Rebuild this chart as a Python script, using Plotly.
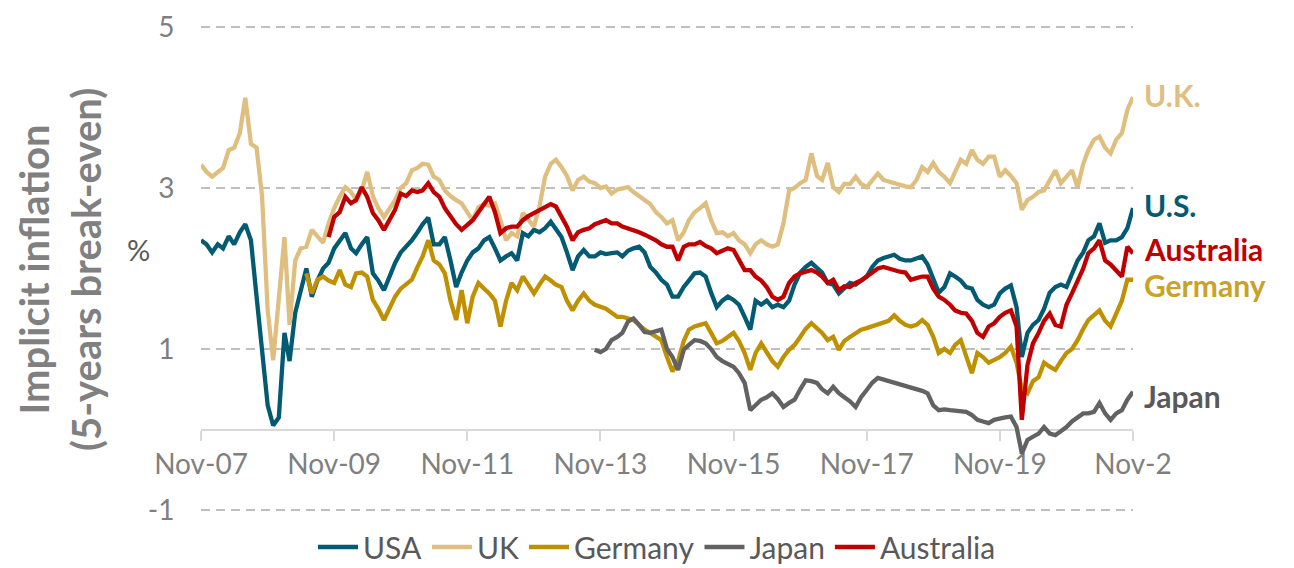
import pandas as pd
import plotly.graph_objects as go

# Monthly readings (Nov-2007 .. Nov-2021); shorter series end in Nov-2021
usa = [2.35,2.3,2.2,2.3,2.25,2.4,2.3,2.45,2.55,2.35, 1.65,0.95,0.3,0.05,0.15,1.2,0.85,1.45,1.7,2.0,
       1.65,1.85,2.0,2.07,2.25,2.35,2.44,2.25,2.19,2.3, 2.39,1.94,1.85,1.73,1.9,2.07,2.2,2.27,2.35,2.45,
       2.55,2.63,2.3,2.3,2.39,2.1,1.77,1.95,2.1,2.2, 2.25,2.35,2.39,2.25,2.1,2.15,2.19,2.1,2.44,2.4,
       2.48,2.45,2.5,2.58,2.5,2.39,2.2,1.98,2.15,2.23, 2.15,2.15,2.2,2.18,2.19,2.2,2.15,2.22,2.25,2.27,
       2.2,2.02,1.95,1.86,1.8,1.65,1.65,1.77,1.85,1.94, 1.95,1.9,1.7,1.52,1.6,1.65,1.61,1.55,1.4,1.24,
       1.6,1.55,1.6,1.52,1.55,1.52,1.6,1.8,1.95,2.02, 2.07,2.0,1.95,1.82,1.8,1.69,1.75,1.82,1.8,1.85,
       1.9,2.02,2.1,2.13,2.15,2.17,2.12,2.1,2.1,2.12, 2.15,2.05,1.86,1.7,1.77,1.94,1.9,1.85,1.77,1.75,
       1.61,1.55,1.52,1.55,1.69,1.75,1.79,1.52,0.9,1.2, 1.3,1.36,1.5,1.7,1.77,1.8,1.77,1.95,2.1,2.2,
       2.35,2.4,2.56,2.32,2.35,2.35,2.39,2.5,2.75]
uk = [3.29,3.2,3.14,3.2,3.25,3.47,3.5,3.68,4.12,3.55, 3.5,2.9,1.48,0.86,1.7,2.39,1.3,2.1,2.25,2.27,
      2.48,2.4,2.32,2.56,2.75,2.89,3.01,2.95,2.85,2.97, 3.2,2.9,2.75,2.64,2.76,2.85,3.0,3.06,3.22,3.25,
      3.3,3.29,3.14,3.1,2.97,2.9,2.85,2.81,2.7,2.6, 2.76,2.8,2.78,2.81,2.6,2.35,2.44,2.4,2.69,2.6,
      2.52,2.77,3.14,3.3,3.35,3.26,3.15,2.97,3.1,3.14, 3.08,3.06,3.0,3.02,2.93,2.98,3.0,3.01,2.95,2.9,
      2.85,2.8,2.7,2.64,2.56,2.6,2.35,2.45,2.6,2.7, 2.75,2.81,2.6,2.44,2.45,2.4,2.44,2.35,2.3,2.19,
      2.3,2.35,2.3,2.27,2.3,2.56,2.97,3.0,3.06,3.1, 3.43,3.15,3.1,3.31,3.01,2.95,3.05,3.05,3.14,3.05,
      3.01,3.1,3.18,3.1,3.08,3.06,3.05,3.02,3.01,3.1, 3.26,3.2,3.31,3.2,3.14,3.06,3.2,3.35,3.3,3.47,
      3.35,3.3,3.39,3.39,3.14,3.22,3.15,3.06,2.73,2.85, 2.89,2.95,2.97,3.1,3.22,3.06,3.15,3.22,3.01,3.3,
      3.47,3.6,3.64,3.5,3.43,3.6,3.68,3.97,4.13]
germany = [1.94,
           1.69,1.86,1.9,1.85,1.82,1.98,1.8,1.77,1.94,1.95, 1.9,1.61,1.5,1.36,1.5,1.65,1.75,1.8,1.86,2.02,
           2.15,2.35,2.1,2.05,1.94,1.6,1.36,1.73,1.32,1.65, 1.82,1.75,1.69,1.6,1.28,1.6,1.82,1.73,1.9,1.8,
           1.69,1.8,1.9,1.85,1.8,1.77,1.6,1.48,1.6,1.69, 1.6,1.55,1.52,1.5,1.45,1.4,1.4,1.38,1.36,1.3,
           1.24,1.2,1.15,1.11,0.9,0.72,0.85,1.1,1.24,1.28, 1.3,1.32,1.2,1.07,1.1,1.15,1.2,1.1,0.95,0.74,
           0.95,1.07,0.95,0.85,0.78,0.9,0.99,1.05,1.15,1.25, 1.32,1.25,1.2,1.11,1.15,0.99,1.1,1.15,1.2,1.24,
           1.26,1.28,1.3,1.32,1.35,1.42,1.35,1.3,1.28,1.3, 1.36,1.3,1.15,0.95,1.0,0.95,1.05,1.11,0.9,0.7,
           0.95,0.9,0.83,0.86,0.9,0.95,1.03,0.83,0.5,0.45, 0.6,0.65,0.83,0.78,0.74,0.85,0.95,1.0,1.11,1.25,
           1.36,1.42,1.48,1.35,1.28,1.44,1.6,1.86,1.86]
japan = [0.99,
         0.96,1.0,1.11,1.15,1.2,1.34,1.38,1.3,1.21,1.2, 1.22,1.24,1.0,0.9,0.74,0.99,1.05,1.11,1.1,1.07,
         1.0,0.9,0.85,0.82,0.78,0.7,0.58,0.24,0.3,0.37, 0.4,0.45,0.38,0.28,0.33,0.37,0.5,0.61,0.6,0.58,
         0.5,0.45,0.53,0.45,0.4,0.35,0.28,0.4,0.49,0.58, 0.64,0.62,0.6,0.59,0.57,0.55,0.53,0.5,0.48,0.45,
         0.3,0.24,0.25,0.24,0.23,0.22,0.22,0.18,0.12,0.1, 0.08,0.12,0.14,0.15,0.16,0.03,-0.3,-0.13,-0.09,-0.05,
         0.03,-0.05,-0.07,-0.02,0.03,0.1,0.15,0.2,0.2,0.22, 0.33,0.2,0.12,0.2,0.24,0.37,0.47]
australia = [2.39,
             2.64,2.7,2.89,2.81,2.85,3.01,2.89,2.69,2.6,2.48, 2.6,2.73,2.93,2.9,2.97,2.95,2.97,3.06,2.95,2.89,
             2.75,2.64,2.55,2.48,2.55,2.6,2.7,2.8,2.89,2.7, 2.44,2.5,2.52,2.52,2.6,2.65,2.69,2.72,2.77,2.8,
             2.77,2.65,2.52,2.35,2.45,2.48,2.5,2.55,2.58,2.6, 2.56,2.56,2.52,2.5,2.48,2.45,2.42,2.39,2.35,2.3,
             2.27,2.27,2.1,2.27,2.3,2.3,2.33,2.28,2.25,2.19, 2.22,2.25,2.23,2.1,1.98,1.98,1.9,1.85,1.77,1.65,
             1.61,1.65,1.82,1.9,1.94,1.96,1.98,1.95,1.9,1.82, 1.86,1.73,1.78,1.77,1.82,1.85,1.9,1.95,2.0,2.02,
             2.0,1.98,1.96,1.95,1.86,1.88,1.9,1.9,1.75,1.65, 1.61,1.55,1.48,1.45,1.44,1.35,1.2,1.15,1.28,1.32,
             1.4,1.45,1.48,1.28,0.12,0.8,1.07,1.2,1.35,1.44, 1.3,1.28,1.55,1.69,1.86,2.0,2.19,2.25,2.35,2.1,
             2.05,1.98,1.9,2.27,2.19]

months = pd.date_range("2007-11-01", "2021-11-01", freq="MS")
tick_dates = ["2007-11-01", "2009-11-01", "2011-11-01", "2013-11-01",
              "2015-11-01", "2017-11-01", "2019-11-01", "2021-11-01"]
tick_text = ["Nov-07", "Nov-09", "Nov-11", "Nov-13", "Nov-15", "Nov-17", "Nov-19", "Nov-2"]
y_ticks = [-1, 1, 3, 5]
y_text = ["-1", "1", "3", "5"]

series = [("USA", usa, "#035A73"), ("UK", uk, "#DFBF80"), ("Germany", germany, "#BF9000"),
          ("Japan", japan, "#626262"), ("Australia", australia, "#C00000")]
end_labels = [("U.K.", 4.16, "#DFBF80"), ("U.S.", 2.79, "#035A73"), ("Australia", 2.24, "#C00000"),
              ("Germany", 1.79, "#C9A22A"), ("Japan", 0.42, "#595959")]

FONT = "Lato"
OFF = 8            # page body margin offsets the figure by 8px
EXT = 3            # px of extra y-range so edge gridlines (-1, 5) are drawn
UNIT = 80.5        # px per 1 percentage point
Y0, Y1 = -1 - EXT / UNIT, 5 + EXT / UNIT
W, H = 1294 - OFF, 568 - OFF
L, R = 201 - OFF, 161
T = 27 - EXT - OFF
B = H - (510 + EXT - OFF)
PW, PH = W - L - R, H - T - B


def px_x(px):  # screenshot pixel -> paper x
    return (px - OFF - L) / PW


def px_y(py):  # screenshot pixel -> paper y
    return (H - B - (py - OFF)) / PH


fig = go.Figure()
for name, vals, col in series:
    fig.add_trace(go.Scatter(x=months[-len(vals):], y=vals, name=name, mode="lines",
                             line=dict(color=col, width=4.3)))

fig.update_layout(
    width=W, height=H, plot_bgcolor="white", paper_bgcolor="white",
    margin=dict(l=L, r=R, t=T, b=B, autoexpand=False),
    font=dict(family=FONT, color="#7F7F7F"),
    showlegend=True,
    legend=dict(orientation="h", x=px_x(657), xanchor="center", y=px_y(547), yanchor="middle",
                font=dict(size=30, color="#595959"), itemwidth=40, tracegroupgap=0,
                bgcolor="rgba(0,0,0,0)"),
    xaxis=dict(type="date", range=["2007-11-01", "2021-11-01"], anchor="free",
               position=(0 - Y0) / (Y1 - Y0),
               tickvals=tick_dates, ticktext=tick_text, showgrid=False, zeroline=False,
               showline=True, linecolor="#D9D9D9", linewidth=2, automargin=False,
               ticks="outside", ticklen=10, tickwidth=2, tickcolor="#D9D9D9",
               ticklabelstandoff=0,
               tickfont=dict(size=28, color="#7F7F7F"), layer="below traces"),
    yaxis=dict(range=[Y0, Y1], tickvals=y_ticks, ticktext=y_text, showgrid=True, gridcolor="#BFBFBF",
               gridwidth=1.5, griddash="9px,6px", zeroline=False, showline=False, automargin=False,
               ticks="outside", ticklen=20, tickcolor="rgba(0,0,0,0)",
               tickfont=dict(size=28, color="#7F7F7F")),
)

fig.add_annotation(text="<b>Implicit inflation<br>(5-years break-even)</b>", textangle=-90,
                   xref="paper", yref="paper", x=px_x(60), y=px_y(270), xanchor="center",
                   yanchor="middle", showarrow=False,
                   font=dict(size=40, color="#808080", family=FONT), align="center")
fig.add_annotation(text="%", xref="paper", yref="paper", x=px_x(138), y=px_y(250),
                   xanchor="center", yanchor="middle", showarrow=False,
                   font=dict(size=29, color="#595959", family=FONT))
for txt, yv, col in end_labels:
    fig.add_annotation(text=f"<b>{txt}</b>", xref="paper", yref="y", x=px_x(1142), y=yv,
                       xanchor="left", yanchor="middle", showarrow=False,
                       font=dict(size=30, color=col, family=FONT))

fig.write_html("out.html")
